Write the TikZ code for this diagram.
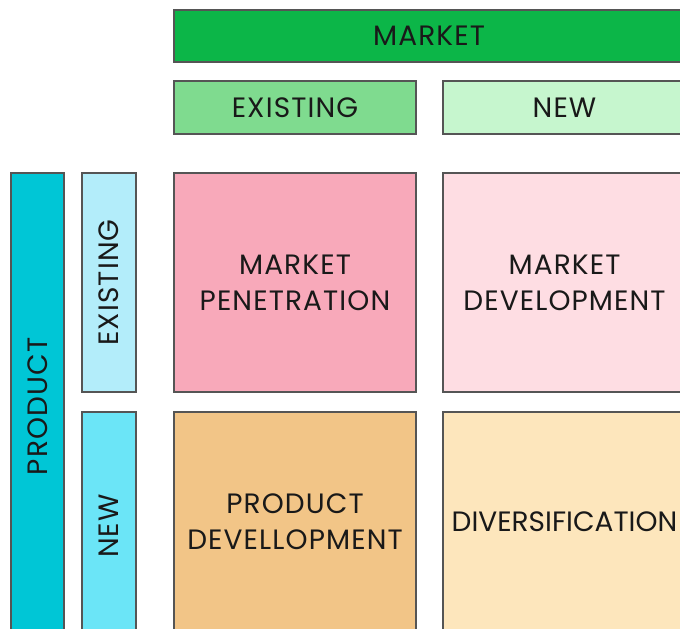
\documentclass[tikz,border=0pt]{standalone}
\usepackage{fontspec}
\setmainfont{Poppins}
\definecolor{mkt}{RGB}{12,182,72}
\definecolor{hex}{RGB}{127,219,143}
\definecolor{hnw}{RGB}{198,246,206}
\definecolor{prd}{RGB}{0,198,214}
\definecolor{sex}{RGB}{179,237,250}
\definecolor{snw}{RGB}{107,229,247}
\definecolor{cpen}{RGB}{248,169,186}
\definecolor{cmdv}{RGB}{254,221,227}
\definecolor{cpdv}{RGB}{242,197,135}
\definecolor{cdiv}{RGB}{253,230,188}
\definecolor{edge}{RGB}{85,85,85}
\definecolor{ink}{RGB}{25,25,25}
\tikzset{
  box/.style={draw=edge, line width=1.4pt, inner sep=0pt, align=center, text=ink,
    font=\fontsize{28}{36}\selectfont\addfontfeature{LetterSpace=4}},
  tight/.style={font=\fontsize{28}{36}\selectfont\addfontfeature{LetterSpace=0}}
}
\begin{document}
\begin{tikzpicture}[x=1pt,y=-1pt]
\useasboundingbox (0,0) rectangle (680,629);
\clip (0,0) rectangle (680,629);
\fill[white] (0,0) rectangle (680,629);
\node[box, fill=mkt, minimum width=510pt, minimum height=52pt] (market) at (429,36) {MARKET};
\node[box, fill=hex, minimum width=242pt, minimum height=53pt] (hexist) at (295,107.5) {EXISTING};
\node[box, fill=hnw, minimum width=243pt, minimum height=53pt] (hnew) at (564.5,107.5) {NEW};
\node[box, fill=prd, rotate=90, minimum width=467pt, minimum height=53pt] (product) at (37.5,406.5) {PRODUCT};
\node[box, fill=sex, rotate=90, minimum width=219pt, minimum height=54pt] (sexist) at (109,282.5) {EXISTING};
\node[box, fill=snw, rotate=90, minimum width=228pt, minimum height=54pt] (snew) at (109,526) {NEW};
\node[box, fill=cpen, minimum width=242pt, minimum height=219pt] (pen) at (295,282.5) {MARKET\\PENETRATION};
\node[box, fill=cmdv, minimum width=243pt, minimum height=219pt] (mdev) at (564.5,282.5) {MARKET\\DEVELOPMENT};
\node[box, fill=cpdv, minimum width=242pt, minimum height=220pt] (pdev) at (295,522) {PRODUCT\\DEVELLOPMENT};
\node[box, tight, fill=cdiv, minimum width=243pt, minimum height=220pt] (div) at (564.5,522) {DIVERSIFICATION};
\end{tikzpicture}
\end{document}
